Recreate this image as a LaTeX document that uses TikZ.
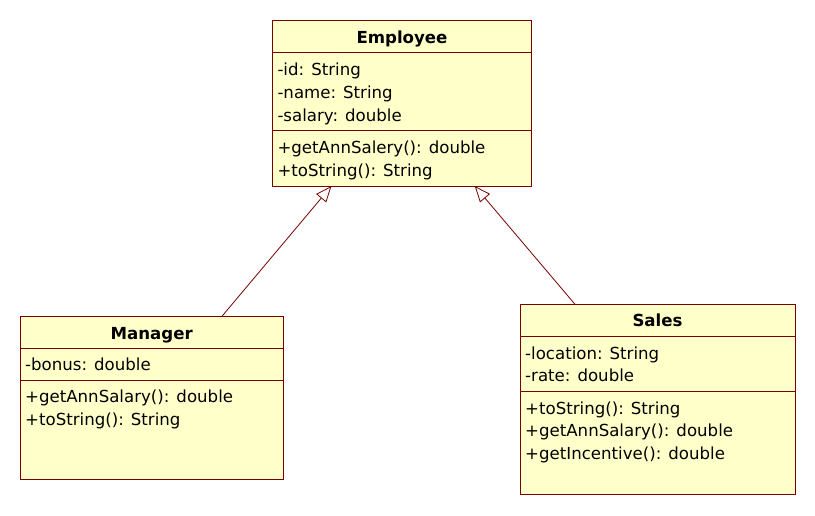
\documentclass[tikz,border=0pt]{standalone}
\usepackage{fontspec}
\setmainfont{DejaVu Sans}
\usetikzlibrary{arrows.meta,calc}
\definecolor{umlfill}{RGB}{255,255,202}
\definecolor{umlline}{RGB}{120,0,0}
\begin{document}
\begin{tikzpicture}[x=1pt,y=1pt,
 classbox/.style={draw=umlline, fill=umlfill, line width=1pt, anchor=north west, inner sep=0pt, outer sep=0pt},
 ctitle/.style={font=\fontsize{16.6}{19}\selectfont\bfseries, inner sep=0pt, anchor=base},
 member/.style={font=\fontsize{16.6}{19}\selectfont, anchor=base west, inner sep=0pt},
 divider/.style={draw=umlline, line width=1pt},
 inherit/.style={draw=umlline, line width=0.8pt, -{Triangle[open, length=16pt, width=13pt]}}]
\useasboundingbox (0,0) rectangle (815,-515);
\fill[white] (0,0) rectangle (815,-515);

% Employee
\node[classbox, minimum width=259.5pt, minimum height=165.5pt] (emp) at (272.3,-20.5) {};
\draw[divider] (272.3,-52.7) -- (531.8,-52.7);
\draw[divider] (272.3,-130.7) -- (531.8,-130.7);
\node[ctitle] (empT) at (402,-43.3) {Employee};
\node[member] (empA1) at (277.3,-75.7) {-id: String};
\node[member] (empA2) at (277.3,-98.5) {-name: String};
\node[member] (empA3) at (277.3,-121.3) {-salary: double};
\node[member] (empM1) at (277.3,-153) {+getAnnSalery(): double};
\node[member] (empM2) at (277.3,-176) {+toString(): String};

% Manager
\node[classbox, minimum width=263.3pt, minimum height=163.3pt] (mgr) at (20,-316) {};
\draw[divider] (20,-348.3) -- (283.3,-348.3);
\draw[divider] (20,-380) -- (283.3,-380);
\node[ctitle] (mgrT) at (151.7,-339.3) {Manager};
\node[member] (mgrA1) at (25,-370.7) {-bonus: double};
\node[member] (mgrM1) at (25,-402) {+getAnnSalary(): double};
\node[member] (mgrM2) at (25,-425) {+toString(): String};

% Sales
\node[classbox, minimum width=275pt, minimum height=189.7pt] (sal) at (520,-304.3) {};
\draw[divider] (520,-336) -- (795,-336);
\draw[divider] (520,-391) -- (795,-391);
\node[ctitle] (salT) at (657.5,-326.7) {Sales};
\node[member] (salA1) at (525,-359) {-location: String};
\node[member] (salA2) at (525,-381.7) {-rate: double};
\node[member] (salM1) at (525,-414) {+toString(): String};
\node[member] (salM2) at (525,-436.7) {+getAnnSalary(): double};
\node[member] (salM3) at (525,-459.3) {+getIncentive(): double};

% Generalizations
\draw[inherit] ($(mgr.north west)!0.768!(mgr.north east)$) -- ($(emp.south west)!0.228!(emp.south east)$);
\draw[inherit] ($(sal.north west)!0.2!(sal.north east)$) -- ($(emp.south west)!0.78!(emp.south east)$);
\end{tikzpicture}
\end{document}
